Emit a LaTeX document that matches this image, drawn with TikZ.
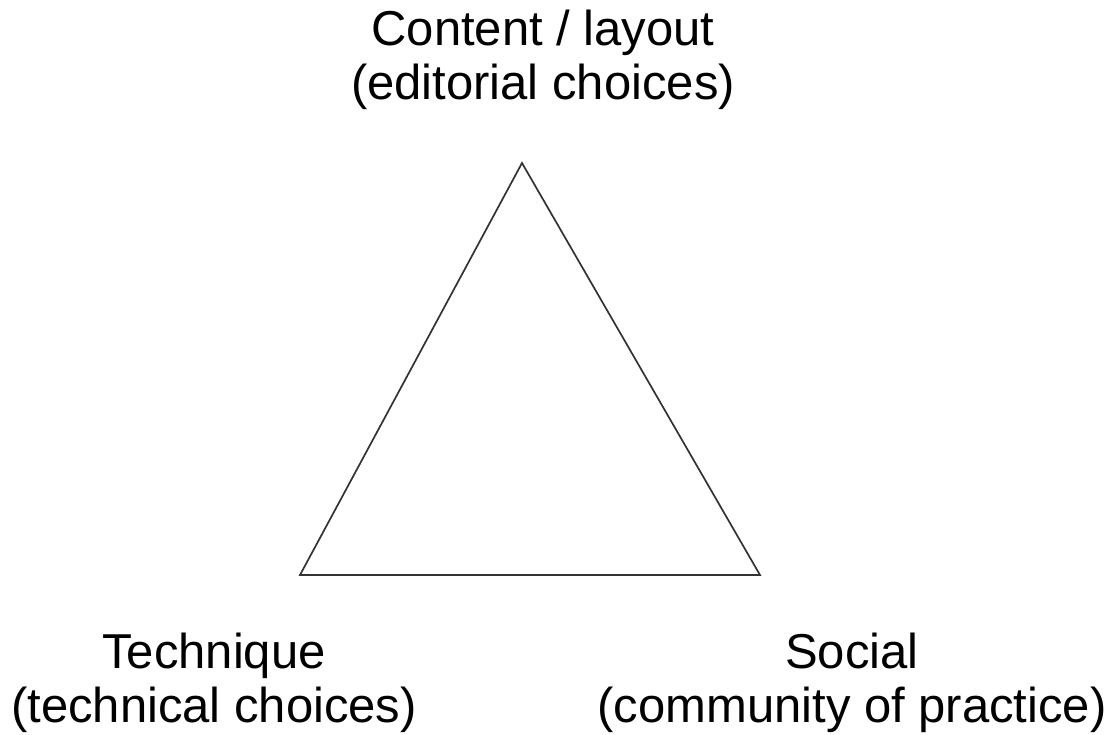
\documentclass[tikz,border=0pt]{standalone}
\usepackage{fontspec}
\setmainfont{Liberation Sans}
\begin{document}
\begin{tikzpicture}[x=1pt,y=-1pt,
  lbl/.style={align=center,inner sep=0pt,anchor=base,font=\fontsize{49}{54}\selectfont},
  edge/.style={draw=black!80,line width=1.7pt,line join=miter}]
\useasboundingbox (0,0) rectangle (1120,735);
\coordinate (top) at (522,163);
\coordinate (bl) at (300,575);
\coordinate (br) at (760,575);
\draw[edge] (top) -- (bl) -- (br) -- cycle;
\node[lbl] (content) at (543,100) {Content / layout\\(editorial choices)};
\node[lbl] (technique) at (214,722) {Technique\\(technical choices)};
\node[lbl] (social) at (852,722) {Social\\(community of practice)};
\end{tikzpicture}
\end{document}
